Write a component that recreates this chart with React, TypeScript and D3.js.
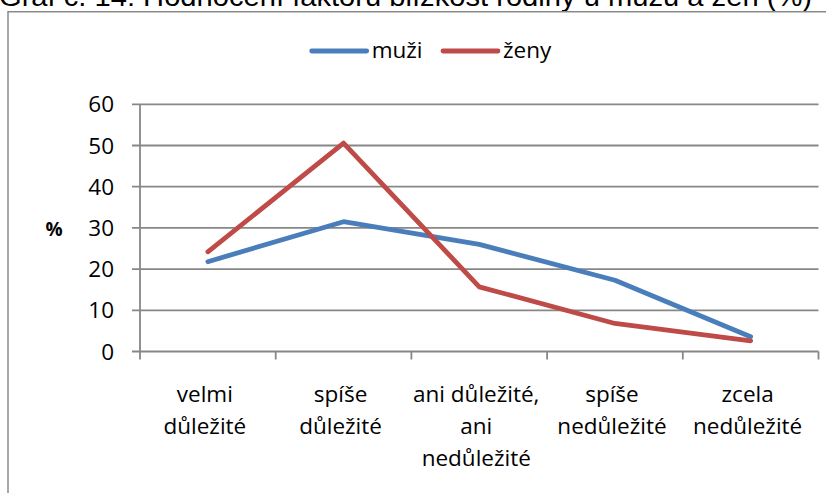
import React from "react";
import * as d3 from "d3";

const title = "Graf č. 14: Hodnocení faktoru blízkost rodiny u mužů a žen (%)";
const categories = [
  ["velmi", "důležité"],
  ["spíše", "důležité"],
  ["ani důležité,", "ani", "nedůležité"],
  ["spíše", "nedůležité"],
  ["zcela", "nedůležité"],
];
const muzi = [21.8, 31.5, 26.0, 17.3, 3.6];
const zeny = [24.2, 50.6, 15.7, 6.8, 2.6];
const yTicks = [0, 10, 20, 30, 40, 50, 60];
const series = [
  { name: "muži", values: muzi, color: "#4A7EBB" },
  { name: "ženy", values: zeny, color: "#BE4B48" },
];

const W = 835;
const H = 493;
const font = "'Open Sans', sans-serif";
const grid = "#878787";

const App = () => {
  const x = d3
    .scaleBand<number>()
    .domain(categories.map((_, i) => i))
    .range([140, 818.5])
    .padding(0);
  const y = d3.scaleLinear().domain([0, 60]).range([351.5, 104.3]);
  const cx = (i: number) => (x(i) as number) + x.bandwidth() / 2;

  const line = d3
    .line<number>()
    .x((_, i) => cx(i))
    .y((d) => y(d));

  const bounds = categories.map((_, i) => x(i) as number).concat([x.range()[1]]);

  return (
    <svg
      width={W}
      height={H}
      style={{ position: "absolute", left: 0, top: 0, background: "#fff" }}
    >
      <rect width={W} height={H} fill="#fff" />
      {/* title, cut off at the top */}
      <text
        x={-1}
        y={6}
        fontFamily="'Liberation Sans', Arial, sans-serif"
        fontSize={27}
        textLength={813}
        lengthAdjust="spacingAndGlyphs"
        fill="#000"
      >
        {title}
      </text>
      {/* chart frame */}
      <path d={`M8,${H} L8,11.7 L826,11.7`} fill="none" stroke="#8a8a8a" strokeWidth={1.5} />

      {/* gridlines */}
      {yTicks.map((t) => (
        <line key={t} x1={132} x2={818.5} y1={y(t)} y2={y(t)} stroke={grid} strokeWidth={1.8} />
      ))}
      {/* y axis */}
      <line x1={140} x2={140} y1={y(60)} y2={y(0)} stroke={grid} strokeWidth={1.8} />
      {yTicks.map((t) => (
        <text
          key={t}
          x={114}
          y={y(t)}
          dy="0.36em"
          textAnchor="end"
          fontFamily={font}
          fontSize={22.5}
          fill="#000"
        >
          {t}
        </text>
      ))}
      <text x={54} y={y(30) + 1} dy="0.36em" textAnchor="middle" fontFamily={font} fontWeight="bold" fontSize={19} fill="#000">
        %
      </text>

      {/* x axis ticks */}
      {bounds.map((b, i) => (
        <line key={i} x1={b} x2={b} y1={y(0)} y2={y(0) + 8} stroke={grid} strokeWidth={1.8} />
      ))}
      {categories.map((lines, i) => (
        <text key={i} textAnchor="middle" fontFamily={font} fontSize={22.5} fill="#000">
          {lines.map((l, j) => (
            <tspan key={j} x={cx(i) - 3} y={402 + j * 32}>
              {l}
            </tspan>
          ))}
        </text>
      ))}

      {/* series */}
      {series.map((s) => (
        <path
          key={s.name}
          d={line(s.values) as string}
          fill="none"
          stroke={s.color}
          strokeWidth={4.8}
          strokeLinecap="round"
          strokeLinejoin="round"
        />
      ))}

      {/* legend */}
      {series.map((s, i) => {
        const lx = 311.7 + i * 131.3;
        return (
          <g key={s.name}>
            <line x1={lx} x2={lx + 55} y1={51} y2={51} stroke={s.color} strokeWidth={4.8} strokeLinecap="round" />
            <text x={lx + 60} y={57.5} fontFamily={font} fontSize={22.5} fill="#000">
              {s.name}
            </text>
          </g>
        );
      })}
    </svg>
  );
};

export default App;
